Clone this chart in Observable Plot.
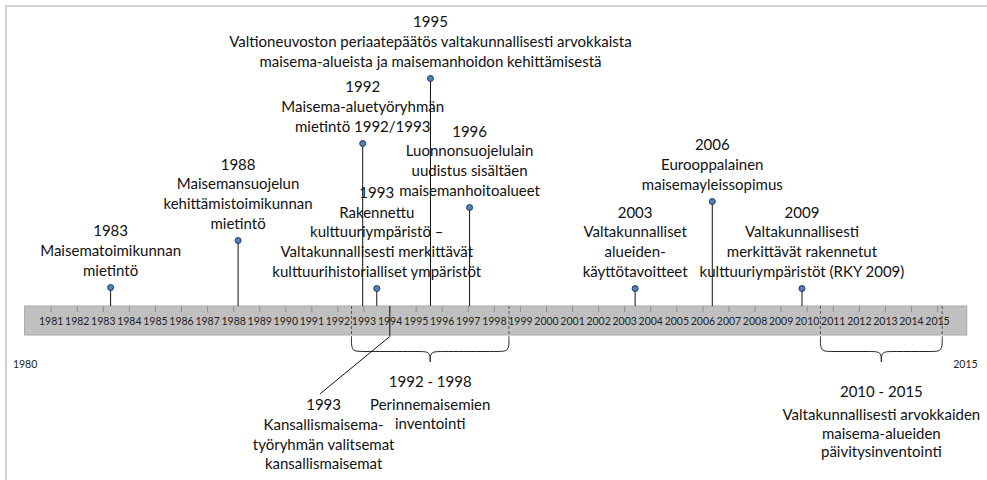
<!DOCTYPE html>
<html><head><meta charset="utf-8">
<script src="https://cdn.jsdelivr.net/npm/d3@7"></script>
<script src="https://cdn.jsdelivr.net/npm/@observablehq/plot@0.6"></script>
<style>
html,body{margin:0;padding:0;background:#fff;}
#wrap{position:relative;width:987px;height:480px;overflow:hidden;}
#wrap svg{position:absolute;left:0;top:0;}
#frame{position:absolute;left:5px;top:5px;width:1000px;height:500px;border-top:2px solid #d2d2d2;border-left:2px solid #d2d2d2;pointer-events:none;}
</style></head><body>
<div id="wrap"></div>
<script>
// Year tick labels along the bar
const tickYears = [1981,1982,1983,1984,1985,1986,1987,1988,1989,1990,1991,1992,1993,1994,1995,1996,1997,1998,1999,2000,2001,2002,2003,2004,2005,2006,2007,2008,2009,2010,2011,2012,2013,2014,2015];
const barStart = 1980, barEnd = 2016.14;
const endLabels = ["1980", "2015"];
const endYears = [1980, 2016.07];

// Events above the bar: position on the time axis, stem height, label
const eventYears = [1983.28, 1988.17, 1992.95, 1995.55, 1993.49, 1997.05, 2003.40, 2006.36, 2009.80];
const eventHeights = [19, 66, 163, 228, 18, 99, 18, 105, 18];
const eventLabels = [
  "1983\nMaisematoimikunnan\nmietintö",
  "1988\nMaisemansuojelun\nkehittämistoimikunnan\nmietintö",
  "1992\nMaisema-aluetyöryhmän\nmietintö 1992/1993",
  "1995\nValtioneuvoston periaatepäätös valtakunnallisesti arvokkaista\nmaisema-alueista ja maisemanhoidon kehittämisestä",
  "1993\nRakennettu\nkulttuuriympäristö –\nValtakunnallisesti merkittävät\nkulttuurihistorialliset ympäristöt",
  "1996\nLuonnonsuojelulain\nuudistus sisältäen\nmaisemanhoitoalueet",
  "2003\nValtakunnalliset\nalueiden-\nkäyttötavoitteet",
  "2006\nEurooppalainen\nmaisemayleissopimus",
  "2009\nValtakunnallisesti\nmerkittävät rakennetut\nkulttuuriympäristöt (RKY 2009)"
];

// Event below the bar (leader line)
const belowYear = 1993.99;
const belowLabelYear = 1991.45;
const belowLineEnd = 1991.33;
const belowDepth = -87;
const belowLabel = "1993\nKansallismaisema-\ntyöryhmän valitsemat\nkansallismaisemat";

// Periods marked with braces
const periodStart = [1992.52, 2010.51];
const periodEnd = [1998.56, 2015.18];
const periodTitles = ["1992 - 1998", "2010 - 2015"];
const periodTexts = [
  "Perinnemaisemien\ninventointi",
  "Valtakunnallisesti arvokkaiden\nmaisema-alueiden\npäivitysinventointi"
];
const periodLabelDepth = [-69.7, -79.7];

// ---- build helpers ----
const barBottom = -29;
const evIdx = eventYears.map((_, i) => i);
const pIdx = periodStart.map((_, i) => i);
const bTop = -33, bMid = -45, bTip = -55, br = 0.4;
const bracePts = [];
pIdx.forEach(i => {
  const s = periodStart[i], e = periodEnd[i], m = (s + e) / 2;
  [[s, 1], [e, -1]].forEach(([a, d], h) => {
    const pts = [[a, bTop], [a, bMid], [a + d * br, bMid], [m - d * br, bMid], [m, bMid], [m, bTip]];
    pts.forEach(([x, y]) => bracePts.push({x, y, z: i * 2 + h}));
  });
});
const leader = [
  {x: belowYear, y: 0}, {x: belowYear, y: barBottom - 1}, {x: belowLineEnd, y: belowDepth}
];
const dashes = [];
pIdx.forEach(i => { dashes.push(periodStart[i], periodEnd[i]); });

const font = "Lato, 'Open Sans', sans-serif";
const FS = 15, LH = 1.31;
const chart = Plot.plot({
  width: 987, height: 480,
  marginLeft: 24.6, marginRight: 23.9, marginTop: 0, marginBottom: 0,
  x: {domain: [1980, 2016], axis: null, clamp: false},
  y: {domain: [-174, 306], axis: null},
  style: {fontFamily: font, background: "transparent", color: "#111"},
  marks: [
    Plot.rect([0], {x1: barStart, x2: barEnd, y1: barBottom, y2: 0, fill: "#c0c0c0", stroke: "#a8a8a8", strokeWidth: 1}),
    Plot.ruleX(tickYears, {x: d => d, y1: 0, y2: -6, stroke: "#8f8f8f", strokeWidth: 1}),
    Plot.text(tickYears, {x: d => d, y: -15.5, text: d => String(d), fontSize: 10.5, fill: "#222"}),
    Plot.ruleX(dashes, {x: d => d, y1: 0, y2: bTop, stroke: "#555", strokeWidth: 1, strokeDasharray: "3,2"}),
    Plot.line(bracePts, {x: "x", y: "y", z: "z", curve: "basis", stroke: "#222", strokeWidth: 1}),
    Plot.ruleX(evIdx, {x: i => eventYears[i], y1: 0, y2: i => eventHeights[i], stroke: "#111", strokeWidth: 1}),
    Plot.dot(evIdx, {x: i => eventYears[i], y: i => eventHeights[i], r: 3, fill: "#4f81bd", stroke: "#1f3a5f", strokeWidth: 1}),
    Plot.line(leader, {x: "x", y: "y", stroke: "#111", strokeWidth: 1}),
    Plot.text(evIdx, {x: i => eventYears[i], y: i => eventHeights[i], text: i => eventLabels[i], lineAnchor: "bottom", dy: -12, fontSize: FS, lineHeight: LH, fill: "#111"}),
    Plot.text([belowLabel], {x: belowLabelYear, y: belowDepth, text: d => d, lineAnchor: "top", dy: 3, fontSize: FS, lineHeight: LH, fill: "#111"}),
    Plot.text(pIdx, {x: i => (periodStart[i] + periodEnd[i]) / 2, y: i => periodLabelDepth[i], text: i => periodTitles[i], lineAnchor: "top", fontSize: FS, fill: "#111"}),
    Plot.text(pIdx, {x: i => (periodStart[i] + periodEnd[i]) / 2, y: i => periodLabelDepth[i], text: i => periodTexts[i], lineAnchor: "top", dy: 20.8, fontSize: FS, lineHeight: 1.23, fill: "#111"}),
    Plot.text(endLabels, {x: (d, i) => endYears[i], y: -58, text: d => d, fontSize: 10.5, fill: "#222"})
  ]
});
const wrap = document.getElementById("wrap");
wrap.appendChild(chart);
const fr = document.createElement("div"); fr.id = "frame"; wrap.appendChild(fr);
</script>
</body></html>
